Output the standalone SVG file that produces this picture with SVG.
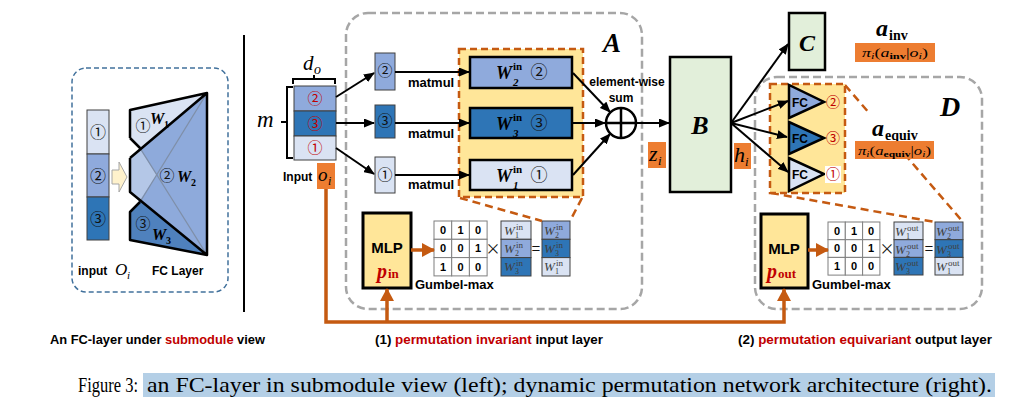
<svg xmlns="http://www.w3.org/2000/svg" width="1019" height="405" viewBox="0 0 1019 405">
<defs>
<style>
.s{font-family:"Liberation Sans",Arial,sans-serif;font-weight:bold;fill:#000}
.m{font-family:"Liberation Serif","Times New Roman",serif;font-style:italic;font-weight:bold;fill:#000}
.mi{font-family:"Liberation Serif","Times New Roman",serif;font-style:italic;font-weight:normal;fill:#000}
.mr{font-family:"Liberation Serif","Times New Roman",serif;font-weight:bold;fill:#000}
.g{font-family:"Liberation Serif","Times New Roman",serif;font-style:italic;fill:#404040}
.gu{font-family:"Liberation Serif","Times New Roman",serif;fill:#404040}
.c{font-family:"Noto Sans CJK SC","DejaVu Sans",sans-serif;fill:#111}
.red{fill:#c00000}
.l1{fill:#dae3f3}.l2{fill:#8faadc}.l3{fill:#2e75b6}
.cell{stroke:#404040;stroke-width:1}
.wb{stroke:#000;stroke-width:2.5}
.mx{fill:#fff;stroke:#7f7f7f;stroke-width:1}
.ob{fill:#ed7d31}
.conn{stroke:#000;stroke-width:2;fill:none}
.ol{stroke:#c55a11;stroke-width:3.5;fill:none}
.od{stroke:#c55a11;stroke-width:2.5;stroke-dasharray:8,5;fill:none}
.gd{stroke:#a6a6a6;stroke-width:2.5;stroke-dasharray:8,4;fill:none}
.yb{fill:#ffe699;stroke:#c55a11;stroke-width:2.5;stroke-dasharray:7,4}
.mlp{fill:#ffe699;stroke:#000;stroke-width:3}
.gb{fill:#e2efda;stroke:#000;stroke-width:2.5}
.pi{font-family:"Liberation Serif","Times New Roman",serif;fill:#000}
.cap{font-family:"Liberation Serif","Times New Roman",serif;fill:#000}
</style>
<marker id="ah" markerUnits="userSpaceOnUse" markerWidth="11" markerHeight="9" refX="10" refY="4.5" orient="auto"><path d="M0,0 L11,4.5 L0,9 z" fill="#000"/></marker>
<marker id="oh" markerUnits="userSpaceOnUse" markerWidth="13" markerHeight="14" refX="12" refY="7" orient="auto"><path d="M0,0 L13,7 L0,14 z" fill="#c55a11"/></marker>
</defs>
<rect width="1019" height="405" fill="#fff"/>

<!-- Left panel -->
<g id="left-panel">
<rect x="72" y="68" width="156" height="224" rx="14" fill="none" stroke="#41719c" stroke-width="1.5" stroke-dasharray="5,3"/>
<rect class="l1 cell" x="87" y="110" width="22" height="44"/>
<rect class="l2 cell" x="87" y="154" width="22" height="43"/>
<rect class="l3 cell" x="87" y="197" width="22" height="43"/>
<text class="c" x="98" y="138" font-size="16" text-anchor="middle">①</text>
<text class="c" x="98" y="182" font-size="16" text-anchor="middle">②</text>
<text class="c" x="98" y="225" font-size="16" text-anchor="middle">③</text>
<polygon points="112,170 119,170 119,162 127,177 119,192 119,184 112,184" fill="#fff2cc" stroke="#a6a6a6" stroke-width="1"/>
<polygon points="130,110 207,93 207,255 130,240 130,212 140,202 130,192 130,158 140,148 130,138" fill="#8eaadb"/>
<polygon points="130,110 207,93 140,149.5 130,138" fill="#dae3f3"/>
<polygon points="130,158 140,149.5 156.7,174.7 140,200.2 130,192" fill="#b4c7e7"/>
<polygon points="140,200.2 207,255 130,240 130,212" fill="#4f81bd"/>
<line x1="140" y1="148" x2="207" y2="255" stroke="#7f8fa8" stroke-width="1.3"/>
<line x1="140" y1="202" x2="207" y2="93" stroke="#7f8fa8" stroke-width="1.3"/>
<path d="M130,138 V110 L207,93 V255 L130,240 V212 L140,202 M130,138 L140,148 M130,158 L207,93 M130,158 V192 L207,255" fill="none" stroke="#000" stroke-width="2.5" stroke-linejoin="round"/>
<text class="c" x="143" y="131" font-size="15" text-anchor="middle">①</text>
<text class="m" x="150" y="124" font-size="16">W</text>
<text class="mr" x="164" y="128" font-size="10">1</text>
<text class="c" x="167" y="181" font-size="15" text-anchor="middle">②</text>
<text class="m" x="177" y="182" font-size="16">W</text>
<text class="mr" x="191" y="186" font-size="10">2</text>
<text class="c" x="143" y="229" font-size="15" text-anchor="middle">③</text>
<text class="m" x="152" y="240" font-size="16">W</text>
<text class="mr" x="166" y="244" font-size="10">3</text>
<text class="s" x="78" y="275" font-size="12">input</text>
<text class="mi" x="115" y="275" font-size="17">O</text>
<text class="mi" x="127" y="279" font-size="11">i</text>
<text class="s" x="152" y="275" font-size="12">FC Layer</text>
</g>

<line id="separator" x1="244" y1="35" x2="244" y2="312" stroke="#000" stroke-width="2"/>

<!-- Input -->
<g id="input">
<path d="M293,84 V79 H314 V75 M314,79 H335 V84" fill="none" stroke="#000" stroke-width="2"/>
<path d="M293,87 H287 V158 H293 M287,122 H281" fill="none" stroke="#000" stroke-width="2"/>
<text class="mi" x="303" y="70" font-size="21">d</text>
<text class="mi" x="314" y="74" font-size="14">o</text>
<text class="mi" x="257" y="127" font-size="23">m</text>
<rect class="l2 cell" x="294" y="86" width="42" height="25"/>
<rect class="l3 cell" x="294" y="111" width="42" height="25"/>
<rect class="l1 cell" x="294" y="136" width="42" height="24"/>
<text class="c red" x="315" y="104" font-size="15" text-anchor="middle">②</text>
<text class="c red" x="315" y="129" font-size="15" text-anchor="middle">③</text>
<text class="c red" x="315" y="153" font-size="15" text-anchor="middle">①</text>
<text class="s" x="283" y="181" font-size="12">Input</text>
<rect class="ob" x="317" y="163" width="18" height="26"/>
<text class="mi" x="318" y="181" font-size="19">o</text>
<text class="mi" x="328" y="185" font-size="12">i</text>
</g>

<!-- Region A -->
<g id="region-A">
<rect class="gd" x="346" y="13" width="296" height="296" rx="22"/>
<text class="m" x="603" y="52" font-size="27">A</text>
<rect class="l2 cell" x="375" y="53" width="20" height="37"/>
<rect class="l3 cell" x="375" y="105" width="20" height="33"/>
<rect class="l1 cell" x="375" y="157" width="20" height="36"/>
<text class="c" x="385" y="76" font-size="15" text-anchor="middle">②</text>
<text class="c" x="385" y="126" font-size="15" text-anchor="middle">③</text>
<text class="c" x="385" y="180" font-size="15" text-anchor="middle">①</text>
<text class="s" x="408" y="87" font-size="13">matmul</text>
<text class="s" x="408" y="138" font-size="13">matmul</text>
<text class="s" x="408" y="189" font-size="13">matmul</text>
</g>

<g id="weights-in">
<rect class="yb" x="459" y="49" width="124" height="148"/>
<rect class="l2 wb" x="470" y="57" width="102" height="31"/>
<rect class="l3 wb" x="470" y="108" width="102" height="30"/>
<rect class="l1 wb" x="470" y="160" width="102" height="30"/>
<text class="m" x="496" y="79" font-size="18">W</text>
<text class="mr" x="513" y="70" font-size="11">in</text>
<text class="m" x="513" y="86" font-size="11">2</text>
<text class="c" x="539" y="78" font-size="17" text-anchor="middle">②</text>
<text class="m" x="496" y="130" font-size="18">W</text>
<text class="mr" x="513" y="121" font-size="11">in</text>
<text class="m" x="513" y="137" font-size="11">3</text>
<text class="c" x="539" y="129" font-size="17" text-anchor="middle">③</text>
<text class="m" x="496" y="182" font-size="18">W</text>
<text class="mr" x="513" y="173" font-size="11">in</text>
<text class="m" x="513" y="189" font-size="11">1</text>
<text class="c" x="539" y="181" font-size="17" text-anchor="middle">①</text>
</g>

<g id="sum">
<circle cx="621" cy="123" r="15" fill="#fff" stroke="#000" stroke-width="2.5"/>
<path d="M606,123 H636 M621,108 V138" stroke="#000" stroke-width="2.5"/>
<text class="s" x="627" y="86" font-size="12" text-anchor="middle">element-wise</text>
<text class="s" x="621" y="102" font-size="12" text-anchor="middle">sum</text>
</g>

<g id="mlp-in">
<rect class="mlp" x="363" y="213" width="48" height="75"/>
<text class="s" x="387" y="253" font-size="15" text-anchor="middle">MLP</text>
<text class="m red" x="377" y="278" font-size="20">p</text>
<text class="mr red" x="388" y="278" font-size="13">in</text>
</g>

<g id="perm-in">
<rect class="mx" x="434" y="221" width="17.7" height="18.3"/><rect class="mx" x="451.7" y="221" width="17.7" height="18.3"/><rect class="mx" x="469.4" y="221" width="17.7" height="18.3"/>
<rect class="mx" x="434" y="239.3" width="17.7" height="18.3"/><rect class="mx" x="451.7" y="239.3" width="17.7" height="18.3"/><rect class="mx" x="469.4" y="239.3" width="17.7" height="18.3"/>
<rect class="mx" x="434" y="257.6" width="17.7" height="18.3"/><rect class="mx" x="451.7" y="257.6" width="17.7" height="18.3"/><rect class="mx" x="469.4" y="257.6" width="17.7" height="18.3"/>
<g class="s" font-size="11" text-anchor="middle">
<text x="443" y="234">0</text><text x="460.5" y="234">1</text><text x="478" y="234">0</text>
<text x="443" y="252">0</text><text x="460.5" y="252">0</text><text x="478" y="252">1</text>
<text x="443" y="271">1</text><text x="460.5" y="271">0</text><text x="478" y="271">0</text>
</g>
<text class="c" x="493" y="254" font-size="15" text-anchor="middle">×</text>
<rect class="l1 cell" x="501" y="221" width="30" height="18.3"/>
<rect class="l2 cell" x="501" y="239.3" width="30" height="18.3"/>
<rect class="l3 cell" x="501" y="257.6" width="30" height="18.4"/>
<text class="c" x="536" y="254" font-size="15" text-anchor="middle">=</text>
<rect class="l2 cell" x="542" y="221" width="28" height="18.3"/>
<rect class="l3 cell" x="542" y="239.3" width="28" height="18.3"/>
<rect class="l1 cell" x="542" y="257.6" width="28" height="18.4"/>
<g font-size="13">
<text class="g" x="504" y="235">W</text><text class="gu" x="516" y="230" font-size="9">in</text><text class="gu" x="515" y="238" font-size="8">1</text>
<text class="g" x="504" y="253">W</text><text class="gu" x="516" y="248" font-size="9">in</text><text class="gu" x="515" y="256" font-size="8">2</text>
<text class="g" x="504" y="271">W</text><text class="gu" x="516" y="266" font-size="9">in</text><text class="gu" x="515" y="274" font-size="8">3</text>
<text class="g" x="544" y="235">W</text><text class="gu" x="556" y="230" font-size="9">in</text><text class="gu" x="555" y="238" font-size="8">2</text>
<text class="g" x="544" y="253">W</text><text class="gu" x="556" y="248" font-size="9">in</text><text class="gu" x="555" y="256" font-size="8">3</text>
<text class="g" x="544" y="271">W</text><text class="gu" x="556" y="266" font-size="9">in</text><text class="gu" x="555" y="274" font-size="8">1</text>
</g>
<text class="s" x="415" y="289" font-size="13">Gumbel-max</text>
</g>

<!-- B, C -->
<g id="node-B">
<rect class="gb" x="670" y="57" width="61" height="135"/>
<text class="m" x="700" y="134" font-size="26" text-anchor="middle">B</text>
</g>
<g id="z-label">
<rect class="ob" x="648" y="142" width="18" height="26"/>
<text class="mi" x="649" y="161" font-size="22">z</text>
<text class="mi" x="658" y="165" font-size="13">i</text>
</g>
<g id="h-label">
<rect class="ob" x="734" y="143" width="17" height="26"/>
<text class="mi" x="734" y="162" font-size="22">h</text>
<text class="mi" x="745" y="166" font-size="13">i</text>
</g>
<g id="node-C">
<rect class="gb" x="789" y="13" width="36" height="57"/>
<text class="m" x="807" y="51" font-size="24" text-anchor="middle">C</text>
</g>
<g id="a-inv">
<text class="m" x="876" y="36" font-size="24">a</text>
<text class="mr" x="889" y="40" font-size="14">inv</text>
<rect class="ob" x="855" y="43" width="80" height="19"/>
<text class="pi" x="862" y="57" font-size="13" textLength="66" lengthAdjust="spacingAndGlyphs"><tspan font-style="italic">π</tspan><tspan font-style="italic" font-size="9" dy="2">i</tspan><tspan dy="-2">(</tspan><tspan font-style="italic">a</tspan><tspan font-size="9" font-weight="bold" dy="2">inv</tspan><tspan dy="-2">|</tspan><tspan font-style="italic">o</tspan><tspan font-style="italic" font-size="9" dy="2">i</tspan><tspan dy="-2">)</tspan></text>
</g>

<!-- Region D -->
<g id="region-D">
<rect class="gd" x="755" y="77" width="227" height="232" rx="22"/>
<text class="m" x="940" y="116" font-size="28">D</text>
</g>

<g id="zoom-lines">
<path class="od" d="M460,198 L542,221 M582,198 L570,221"/>
<path class="od" d="M771,193 L935,222 M845,85 L963,222"/>
</g>

<g id="fc-heads">
<rect class="yb" x="770" y="84" width="75" height="109"/>
<polygon class="l2" points="789,85 789,118 824,102" stroke="#000" stroke-width="2.5"/>
<polygon class="l3" points="789,122 789,154 824,138" stroke="#000" stroke-width="2.5"/>
<polygon class="l1" points="789,158 789,191 824,174" stroke="#000" stroke-width="2.5"/>
<text class="s" x="792" y="107" font-size="12">FC</text>
<text class="s" x="792" y="143" font-size="12">FC</text>
<text class="s" x="792" y="179" font-size="12">FC</text>
<text class="c red" x="833" y="107" font-size="14" text-anchor="middle">②</text>
<text class="c red" x="833" y="143" font-size="14" text-anchor="middle">③</text>
<rect x="825" y="166" width="16" height="17" fill="#fff"/>
<text class="c red" x="833" y="179" font-size="14" text-anchor="middle">①</text>
</g>
<g id="a-equiv">
<rect x="866" y="113" width="62" height="28" fill="#fff"/>
<text class="m" x="872" y="136" font-size="24">a</text>
<text class="mr" x="885" y="140" font-size="14">equiv</text>
<rect class="ob" x="855" y="141" width="79" height="18"/>
<text class="pi" x="858" y="155" font-size="13" textLength="73" lengthAdjust="spacingAndGlyphs"><tspan font-style="italic">π</tspan><tspan font-style="italic" font-size="9" dy="2">i</tspan><tspan dy="-2">(</tspan><tspan font-style="italic">a</tspan><tspan font-size="9" font-weight="bold" dy="2">equiv</tspan><tspan dy="-2">|</tspan><tspan font-style="italic">o</tspan><tspan font-style="italic" font-size="9" dy="2">i</tspan><tspan dy="-2">)</tspan></text>
</g>
<g id="mlp-out">
<rect class="mlp" x="761" y="214" width="47" height="74"/>
<text class="s" x="784" y="254" font-size="15" text-anchor="middle">MLP</text>
<text class="m red" x="767" y="278" font-size="20">p</text>
<text class="mr red" x="778" y="278" font-size="13">out</text>
</g>
<g id="perm-out">
<rect class="mx" x="828" y="222" width="17.3" height="17.7"/><rect class="mx" x="845.3" y="222" width="17.3" height="17.7"/><rect class="mx" x="862.6" y="222" width="17.3" height="17.7"/>
<rect class="mx" x="828" y="239.7" width="17.3" height="17.7"/><rect class="mx" x="845.3" y="239.7" width="17.3" height="17.7"/><rect class="mx" x="862.6" y="239.7" width="17.3" height="17.7"/>
<rect class="mx" x="828" y="257.4" width="17.3" height="17.7"/><rect class="mx" x="845.3" y="257.4" width="17.3" height="17.7"/><rect class="mx" x="862.6" y="257.4" width="17.3" height="17.7"/>
<g class="s" font-size="11" text-anchor="middle">
<text x="837" y="235">0</text><text x="854" y="235">1</text><text x="871" y="235">0</text>
<text x="837" y="252">0</text><text x="854" y="252">0</text><text x="871" y="252">1</text>
<text x="837" y="270">1</text><text x="854" y="270">0</text><text x="871" y="270">0</text>
</g>
<text class="c" x="887" y="254" font-size="15" text-anchor="middle">×</text>
<rect class="l1 cell" x="894" y="222" width="29" height="17.7"/>
<rect class="l2 cell" x="894" y="239.7" width="29" height="17.7"/>
<rect class="l3 cell" x="894" y="257.4" width="29" height="17.6"/>
<text class="c" x="929" y="254" font-size="15" text-anchor="middle">=</text>
<rect class="l2 cell" x="935" y="222" width="28" height="17.7"/>
<rect class="l3 cell" x="935" y="239.7" width="28" height="17.7"/>
<rect class="l1 cell" x="935" y="257.4" width="28" height="17.6"/>
<g font-size="13">
<text class="g" x="895" y="236">W</text><text class="gu" x="907" y="231" font-size="9">out</text><text class="gu" x="906" y="239" font-size="8">1</text>
<text class="g" x="895" y="254">W</text><text class="gu" x="907" y="249" font-size="9">out</text><text class="gu" x="906" y="257" font-size="8">2</text>
<text class="g" x="895" y="271">W</text><text class="gu" x="907" y="266" font-size="9">out</text><text class="gu" x="906" y="274" font-size="8">3</text>
<text class="g" x="936" y="236">W</text><text class="gu" x="948" y="231" font-size="9">out</text><text class="gu" x="947" y="239" font-size="8">2</text>
<text class="g" x="936" y="254">W</text><text class="gu" x="948" y="249" font-size="9">out</text><text class="gu" x="947" y="257" font-size="8">3</text>
<text class="g" x="936" y="271">W</text><text class="gu" x="948" y="266" font-size="9">out</text><text class="gu" x="947" y="274" font-size="8">1</text>
</g>
<text class="s" x="812" y="289" font-size="13">Gumbel-max</text>
</g>

<!-- Connectors -->
<g id="connectors">
<line class="conn" x1="336" y1="97" x2="374" y2="73" marker-end="url(#ah)"/>
<line class="conn" x1="336" y1="123" x2="374" y2="123" marker-end="url(#ah)"/>
<line class="conn" x1="336" y1="148" x2="374" y2="174" marker-end="url(#ah)"/>
<line class="conn" x1="395" y1="72" x2="469" y2="72" marker-end="url(#ah)"/>
<line class="conn" x1="395" y1="123" x2="469" y2="123" marker-end="url(#ah)"/>
<line class="conn" x1="395" y1="175" x2="469" y2="175" marker-end="url(#ah)"/>
<line class="conn" x1="573" y1="73" x2="610" y2="112" marker-end="url(#ah)"/>
<line class="conn" x1="573" y1="123" x2="605" y2="123" marker-end="url(#ah)"/>
<line class="conn" x1="573" y1="175" x2="610" y2="134" marker-end="url(#ah)"/>
<line class="conn" x1="636" y1="123" x2="669" y2="123" marker-end="url(#ah)"/>
<line class="conn" x1="731" y1="123" x2="788" y2="44" marker-end="url(#ah)"/>
<line class="conn" x1="731" y1="123" x2="788" y2="101" marker-end="url(#ah)"/>
<line class="conn" x1="731" y1="123" x2="787" y2="137" marker-end="url(#ah)"/>
<line class="conn" x1="731" y1="123" x2="788" y2="172" marker-end="url(#ah)"/>
<path class="ol" d="M326,189 V322 H784 V289" marker-end="url(#oh)"/>
<path class="ol" d="M387,322 V289" marker-end="url(#oh)"/>
<path class="ol" d="M411,250 H434" marker-end="url(#oh)"/>
<path class="ol" d="M808,250 H828" marker-end="url(#oh)"/>
</g>

<!-- Captions -->
<g id="labels">
<text class="s" x="50" y="344" font-size="12" textLength="215" lengthAdjust="spacingAndGlyphs">An FC-layer under <tspan class="red">submodule</tspan> view</text>
<text class="s" x="375" y="344" font-size="12" textLength="228" lengthAdjust="spacingAndGlyphs">(1) <tspan class="red">permutation invariant</tspan> input layer</text>
<text class="s" x="738" y="344" font-size="12" textLength="254" lengthAdjust="spacingAndGlyphs">(2) <tspan class="red">permutation equivariant</tspan> output layer</text>
<rect x="143" y="373" width="852" height="24" fill="#b4cfe6"/>
<text class="cap" x="78" y="392" font-size="22" textLength="60" lengthAdjust="spacingAndGlyphs">Figure 3:</text>
<text class="cap" x="147" y="392" font-size="22" textLength="845" lengthAdjust="spacingAndGlyphs">an FC-layer in submodule view (left); dynamic permutation network architecture (right).</text>
</g>
</svg>
